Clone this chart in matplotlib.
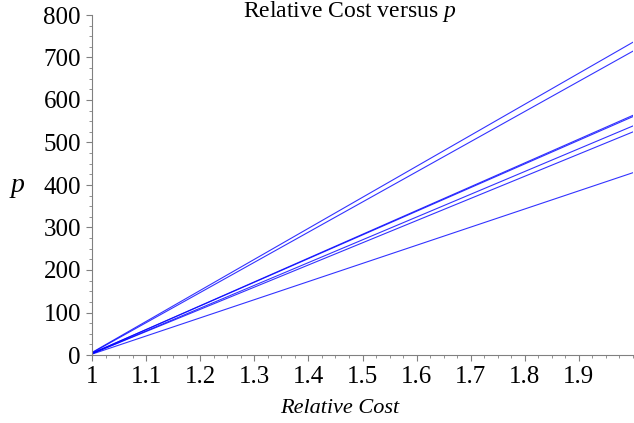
import matplotlib
matplotlib.use("Agg")
import matplotlib.pyplot as plt
from matplotlib.ticker import MultipleLocator, FixedLocator

# Data: relative cost on x, p on y
cost = [1.0, 2.0]
series = [
    [6, 736],
    [5, 715],
    [4, 564],
    [4, 561],
    [3, 539],
    [3, 525],
    [2, 429],
]
xticks = [1, 1.1, 1.2, 1.3, 1.4, 1.5, 1.6, 1.7, 1.8, 1.9]
xticklabels = ["1", "1.1", "1.2", "1.3", "1.4", "1.5", "1.6", "1.7", "1.8", "1.9"]
yticks = [0, 100, 200, 300, 400, 500, 600, 700, 800]

plt.rcParams['font.family'] = ['Liberation Serif', 'DejaVu Serif']
plt.rcParams['mathtext.fontset'] = 'custom'
plt.rcParams['mathtext.it'] = 'Liberation Serif:italic'
plt.rcParams['mathtext.rm'] = 'Liberation Serif'

fig = plt.figure(figsize=(6.34, 4.23), dpi=100)
ax = fig.add_axes([92/634, 1-355/423, (633-92)/634, (355-15)/423])

for s in series:
    ax.plot(cost, s, color='#0000ff', lw=0.8, alpha=0.8)

ax.set_xlim(1, 2)
ax.set_ylim(0, 800)
ax.xaxis.set_major_locator(FixedLocator(xticks))
ax.set_xticklabels(xticklabels)
ax.xaxis.set_minor_locator(MultipleLocator(0.025))
ax.yaxis.set_major_locator(FixedLocator(yticks))
ax.yaxis.set_minor_locator(MultipleLocator(25))

for side in ['top', 'right']:
    ax.spines[side].set_visible(False)
for side in ['left', 'bottom']:
    ax.spines[side].set_color('#808080')
    ax.spines[side].set_linewidth(0.8)
ax.tick_params(which='major', direction='out', length=4, width=0.8, color='#808080',
               labelsize=18, pad=4)
ax.tick_params(which='minor', direction='out', length=2.5, width=0.6, color='#808080')

fig.text(350/634, 1-12/423, 'Relative Cost versus $p$', ha='center', va='center', fontsize=17)
fig.text(340/634, 1-408/423, 'Relative Cost', ha='center', va='center', fontsize=16, style='italic')
fig.text(18/634, 1-185/423, 'p', ha='center', va='center', fontsize=20, style='italic')

fig.savefig('out.png', dpi=100)
